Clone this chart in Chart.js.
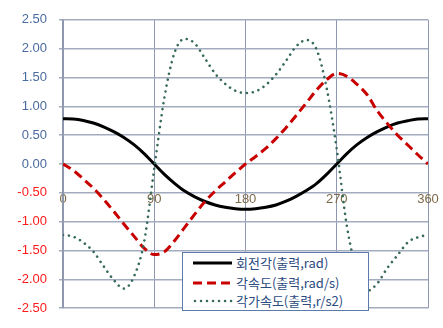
<!DOCTYPE html>
<html>
<head>
<meta charset="utf-8">
<script src="https://cdn.jsdelivr.net/npm/chart.js@4/dist/chart.umd.min.js"></script>
<style>
  html, body { margin: 0; padding: 0; background: #ffffff; }
  #wrap { position: relative; width: 443px; height: 328px; overflow: hidden; }
  #legend {
    position: absolute; left: 182px; top: 252px; width: 185px; height: 57px;
    border: 1px solid #5b7cab; background: #ffffff;
    font: 13px "Noto Sans CJK KR", "Liberation Sans", sans-serif; color: #2a4a80;
  }
  .row { position: absolute; left: 10px; height: 19px; display: flex; align-items: center; white-space: nowrap; }
  .row svg { margin-right: 3px; }
</style>
</head>
<body>
<div id="wrap">
  <canvas id="chart" width="443" height="328"></canvas>
  <div id="legend"></div>
</div>
<script>
// crank angle (deg), one sample every 10 degrees
const angles = [0, 10, 20, 30, 40, 50, 60, 70, 80, 90, 100, 110, 120, 130, 140, 150, 160, 170, 180,
                190, 200, 210, 220, 230, 240, 250, 260, 270, 280, 290, 300, 310, 320, 330, 340, 350, 360];

// 회전각 (rad)
const rotationAngle = [0.785, 0.78, 0.755, 0.71, 0.645, 0.56, 0.46, 0.335, 0.18, 0.0,
                       -0.18, -0.335, -0.47, -0.57, -0.65, -0.71, -0.75, -0.775, -0.785,
                       -0.775, -0.75, -0.71, -0.645, -0.56, -0.46, -0.34, -0.18, 0.0,
                       0.18, 0.335, 0.46, 0.56, 0.645, 0.71, 0.75, 0.78, 0.785];

// 각속도 (rad/s)
const angularVelocity = [0, -0.11, -0.26, -0.42, -0.61, -0.82, -1.04, -1.25, -1.46, -1.57,
                         -1.52, -1.33, -1.10, -0.87, -0.65, -0.47, -0.31, -0.15, 0.0,
                         0.13, 0.27, 0.44, 0.63, 0.84, 1.06, 1.28, 1.46, 1.57,
                         1.52, 1.38, 1.20, 0.92, 0.70, 0.50, 0.33, 0.16, 0];

// 각가속도 (rad/s2)
const angularAccel = [-1.23, -1.26, -1.36, -1.52, -1.77, -2.01, -2.16, -1.95, -1.35, -0.08,
                      1.15, 1.93, 2.17, 2.09, 1.83, 1.57, 1.39, 1.27, 1.23,
                      1.26, 1.37, 1.55, 1.79, 2.04, 2.15, 1.99, 1.32, 0.26,
                      -1.08, -1.86, -2.20, -2.07, -1.80, -1.58, -1.36, -1.27, -1.23];

const seriesNames = ['회전각(출력,rad)', '각속도(출력,rad/s)', '각가속도(출력,r/s2)'];

const xTickStep = 90;
const yMin = -2.5, yMax = 2.5, yTickStep = 0.5;

const pts = vals => angles.map((a, i) => ({ x: a, y: vals[i] }));

const styles = [
  { color: '#000000', width: 3, dash: [], cap: 'butt', order: 3 },
  { color: '#c80000', width: 3, dash: [9, 5], cap: 'butt', order: 2 },
  { color: '#376a58', width: 2.6, dash: [0.01, 6], cap: 'round', order: 1 }
];
const seriesValues = [rotationAngle, angularVelocity, angularAccel];

const datasets = seriesValues.map((v, i) => ({
  label: seriesNames[i],
  data: pts(v),
  borderColor: styles[i].color,
  borderWidth: styles[i].width,
  borderDash: styles[i].dash,
  borderCapStyle: styles[i].cap,
  borderJoinStyle: 'round',
  pointRadius: 0,
  fill: false,
  cubicInterpolationMode: 'monotone',
  order: styles[i].order
}));

const labelFont = { family: '"Liberation Sans", Arial, sans-serif', size: 13 };

new Chart(document.getElementById('chart'), {
  type: 'line',
  data: { datasets },
  options: {
    responsive: false,
    animation: false,
    layout: { padding: { left: 0, right: 15, top: 17, bottom: 8 } },
    plugins: { legend: { display: false }, tooltip: { enabled: false } },
    scales: {
      x: {
        type: 'linear', min: 0, max: 360,
        position: { y: -0.5 },
        ticks: { stepSize: xTickStep, color: '#7d6a48', font: labelFont, padding: -1, maxRotation: 0, autoSkip: false },
        grid: { color: '#8d98ae', lineWidth: 1, drawTicks: false },
        border: { display: false },
        afterFit(scale) { scale.height = 0; }
      },
      y: {
        min: yMin, max: yMax,
        ticks: {
          stepSize: yTickStep,
          callback: v => Number(v).toFixed(2),
          color: ctx => ctx.tick.value < 0 ? '#ff1a1a' : '#4a6b9e',
          font: labelFont,
          padding: 12
        },
        grid: { color: '#a3acbf', lineWidth: 1.5, tickLength: 4 },
        border: { color: '#8d98ae', width: 1.5 },
        afterFit(scale) { scale.width = 63; }
      }
    }
  }
});

// legend box
const legend = document.getElementById('legend');
const rowTops = [0, 20, 38];
seriesNames.forEach((name, i) => {
  const s = styles[i];
  const row = document.createElement('div');
  row.className = 'row';
  row.style.top = rowTops[i] + 'px';
  const dash = s.dash.length ? `stroke-dasharray="${s.dash.join(' ')}"` : '';
  row.innerHTML =
    `<svg width="40" height="8"><line x1="${s.cap === 'round' ? 2 : 0}" y1="4" x2="39" y2="4" stroke="${s.color}" ` +
    `stroke-width="${s.width}" stroke-linecap="${s.cap}" ${dash}/></svg><span>${name}</span>`;
  legend.appendChild(row);
});
</script>
</body>
</html>
